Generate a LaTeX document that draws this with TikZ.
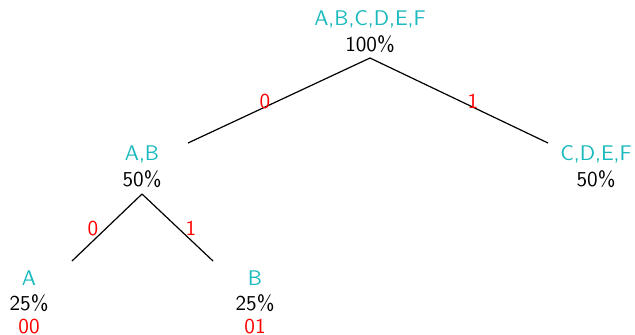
\documentclass[tikz,border=0pt]{standalone}
\usepackage{xcolor}
\definecolor{setcol}{RGB}{25,185,190}
\begin{document}
\begin{tikzpicture}[x=0.5pt,y=-0.5pt,
  every node/.style={font=\sffamily\fontsize{10.6}{12}\selectfont, inner sep=0pt, anchor=base},
  setlbl/.style={text=setcol},
  problbl/.style={text=black},
  codelbl/.style={text=red},
  edgelbl/.style={text=red},
  edge/.style={draw=black, line width=0.6pt}]
\useasboundingbox (0,0) rectangle (635,334);
% root
\node[setlbl] (rootset) at (370,25) {A,B,C,D,E,F};
\node[problbl] (rootp) at (370,51) {100\%};
% AB
\node[setlbl] (abset) at (142,160) {A,B};
\node[problbl] (abp) at (142,186) {50\%};
% CDEF
\node[setlbl] (cdefset) at (596,160) {C,D,E,F};
\node[problbl] (cdefp) at (596,186) {50\%};
% A
\node[setlbl] (aset) at (29,285) {A};
\node[problbl] (ap) at (29,310) {25\%};
\node[codelbl] (acode) at (29,333) {00};
% B
\node[setlbl] (bset) at (255,285) {B};
\node[problbl] (bp) at (255,310) {25\%};
\node[codelbl] (bcode) at (255,333) {01};
% connector ends
\coordinate (rootbot) at (370,58);
\coordinate (abtop) at (188,143);
\coordinate (cdeftop) at (548,143);
\coordinate (abbot) at (142,194);
\coordinate (atop) at (72,261);
\coordinate (btop) at (213,261);
\draw[edge] (rootbot) -- (abtop);
\draw[edge] (rootbot) -- (cdeftop);
\draw[edge] (abbot) -- (atop);
\draw[edge] (abbot) -- (btop);
% edge labels
\node[edgelbl] (l0) at (265,108) {0};
\node[edgelbl] (l1) at (473,108) {1};
\node[edgelbl] (l00) at (93,235) {0};
\node[edgelbl] (l01) at (191,235) {1};
\end{tikzpicture}
\end{document}
